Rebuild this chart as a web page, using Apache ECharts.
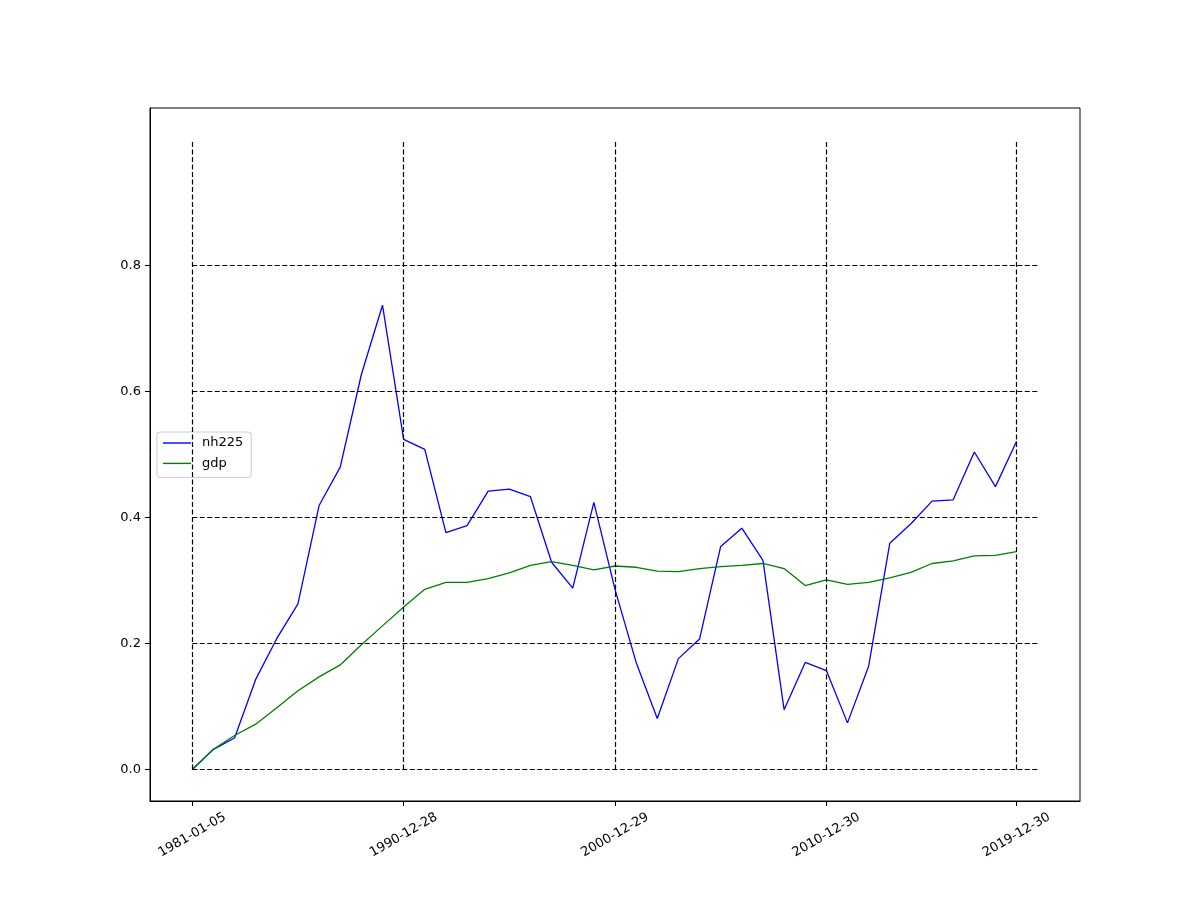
<!DOCTYPE html>
<html>
<head>
<meta charset="utf-8">
<script src="https://cdn.jsdelivr.net/npm/echarts@6/dist/echarts.min.js"></script>
<style>html,body{margin:0;padding:0;background:#fff}#c{width:1200px;height:900px}</style>
</head>
<body>
<div id="c"></div>
<script>
// Series values (one point per year, 1981 .. 2019)
const nh225 = [0.000,0.032,0.050,0.143,0.208,0.263,0.419,0.480,0.627,0.737,
  0.524,0.508,0.376,0.387,0.442,0.445,0.433,0.329,0.288,0.424,
  0.286,0.170,0.081,0.176,0.207,0.354,0.383,0.332,0.095,0.170,
  0.157,0.074,0.164,0.359,0.390,0.426,0.428,0.504,0.449,0.521];
const gdp = [0.000,0.032,0.054,0.072,0.098,0.125,0.147,0.166,0.198,0.228,
  0.258,0.286,0.297,0.297,0.303,0.312,0.324,0.330,0.324,0.317,
  0.323,0.321,0.315,0.314,0.319,0.322,0.324,0.327,0.319,0.292,
  0.301,0.294,0.297,0.304,0.313,0.327,0.331,0.339,0.340,0.346];
// x tick positions (point index) and labels
const xTickIdx = [0, 10, 20, 30, 39];
const xTickLabels = ['1981-01-05', '1990-12-28', '2000-12-29', '2010-12-30', '2019-12-30'];
const yTicks = [0.0, 0.2, 0.4, 0.6, 0.8];
const vLineTop = 1.0;
const hLineEnd = 40;

const xs = nh225.map((_, i) => i);
const font = 'DejaVu Sans';

const gridLines = [];
xTickIdx.forEach(x => gridLines.push([{coord: [x, 0]}, {coord: [x, vLineTop]}]));
yTicks.forEach(y => gridLines.push([{coord: [0, y]}, {coord: [hLineEnd, y]}]));

const chart = echarts.init(document.getElementById('c'), null, {renderer: 'canvas'});
chart.setOption({
  animation: false,
  backgroundColor: '#fff',
  textStyle: {fontFamily: font},
  grid: {left: 150, top: 108, width: 930, height: 693, show: true, borderColor: '#000', borderWidth: 1, backgroundColor: 'transparent'},
  legend: {
    orient: 'vertical', left: 157, top: 432,
    data: [{name: 'nh225', icon: 'rect'}, {name: 'gdp', icon: 'rect'}],
    itemWidth: 28, itemHeight: 1.4, itemGap: 6.4,
    padding: [4, 8, 7, 6],
    borderColor: '#cccccc', borderWidth: 1, borderRadius: 3,
    backgroundColor: 'rgba(255,255,255,0.8)',
    textStyle: {fontFamily: font, fontSize: 13, lineHeight: 14, color: '#000', padding: [0, 0, 0, 6]}
  },
  xAxis: {
    type: 'value', min: -2, max: 42,
    axisLine: {show: true, onZero: false, lineStyle: {color: '#000', width: 1}},
    axisTick: {show: true, length: 5, lineStyle: {color: '#000'}, customValues: xTickIdx},
    axisLabel: {
      show: true, rotate: 30, margin: 34, color: '#000', fontSize: 13, fontFamily: font,
      align: 'center', verticalAlign: 'middle',
      customValues: xTickIdx,
      formatter: v => { const k = xTickIdx.indexOf(Math.round(v)); return k >= 0 ? xTickLabels[k] : ''; }
    },
    splitLine: {show: false}
  },
  yAxis: {
    type: 'value', min: -0.05, max: 1.05,
    axisLine: {show: true, onZero: false, lineStyle: {color: '#000', width: 1}},
    axisTick: {show: true, length: 5, lineStyle: {color: '#000'}, customValues: yTicks},
    axisLabel: {
      show: true, margin: 9, color: '#000', fontSize: 13, fontFamily: font,
      customValues: yTicks,
      formatter: v => v.toFixed(1)
    },
    splitLine: {show: false}
  },
  series: [
    {
      name: 'guides', type: 'line', data: [], z: 1, silent: true,
      markLine: {
        silent: true, symbol: ['none', 'none'], animation: false,
        label: {show: false},
        lineStyle: {color: '#000', width: 1.2, type: [5, 2.5]},
        emphasis: {disabled: true},
        data: gridLines
      }
    },
    {
      name: 'nh225', type: 'line', data: xs.map(i => [i, nh225[i]]),
      symbol: 'none', z: 3,
      itemStyle: {color: '#0000ff'},
      lineStyle: {color: '#0000ff', width: 1.3}
    },
    {
      name: 'gdp', type: 'line', data: xs.map(i => [i, gdp[i]]),
      symbol: 'none', z: 3,
      itemStyle: {color: '#008000'},
      lineStyle: {color: '#008000', width: 1.3}
    }
  ]
});
</script>
</body>
</html>
